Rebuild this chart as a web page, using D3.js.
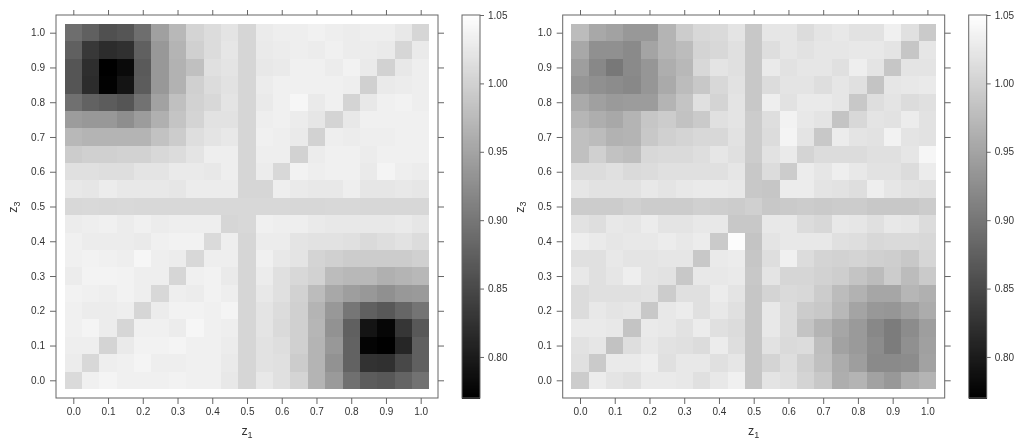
<!DOCTYPE html>
<html>
<head>
<meta charset="utf-8">
<script src="https://cdn.jsdelivr.net/npm/d3@7"></script>
<style>
  html, body { margin: 0; padding: 0; background: #fff; }
  svg { display: block; will-change: transform; }
  text { font-family: "Liberation Sans", Arial, sans-serif; fill: #333; }
  .axis path, .axis line, .frame { stroke: #666; stroke-width: 1; fill: none; }
  .axis text { font-size: 10px; fill: #333; }
</style>
</head>
<body>
<script>
// z values of rows (top to bottom) and columns (left to right)
const zRows = [1, 0.95, 0.9, 0.85, 0.8, 0.75, 0.7, 0.65, 0.6, 0.55, 0.5, 0.45, 0.4, 0.35, 0.3, 0.25, 0.2, 0.15, 0.1, 0.05, 0];
const zCols = zRows.slice().reverse();
const zTicks = [0, 0.1, 0.2, 0.3, 0.4, 0.5, 0.6, 0.7, 0.8, 0.9, 1];
const barTicks = [0.8, 0.85, 0.9, 0.95, 1, 1.05];
const barDomain = [0.77, 1.05];

const leftValues = [
  [.891,.875,.858,.863,.891,.946,.972,1.003,1.012,1.020,1.005,1.028,1.031,1.031,1.035,1.031,1.029,1.031,1.031,1.025,1.005],
  [.875,.831,.818,.823,.875,.937,.968,.998,1.012,1.023,1.005,1.027,1.029,1.031,1.029,1.034,1.029,1.029,1.027,1.005,1.027],
  [.863,.821,.770,.781,.869,.937,.965,.981,1.016,1.020,1.005,1.025,1.027,1.034,1.034,1.029,1.036,1.027,1.001,1.025,1.031],
  [.863,.818,.772,.792,.871,.937,.965,.998,1.012,1.018,1.005,1.029,1.034,1.034,1.034,1.034,1.031,.998,1.027,1.029,1.031],
  [.893,.878,.871,.863,.895,.948,.981,1.001,1.007,1.020,1.005,1.027,1.034,1.040,1.027,1.033,1.003,1.025,1.034,1.036,1.031],
  [.941,.937,.937,.926,.941,.963,.985,1.003,1.018,1.018,1.005,1.031,1.034,1.029,1.023,1.003,1.025,1.034,1.034,1.034,1.034],
  [.972,.968,.968,.968,.968,.983,.994,1.014,1.020,1.025,1.005,1.034,1.031,1.027,1.001,1.031,1.029,1.031,1.031,1.034,1.034],
  [.994,.998,.998,1.001,1.001,1.007,1.012,1.020,1.031,1.031,1.005,1.031,1.031,1.001,1.029,1.034,1.034,1.029,1.034,1.034,1.034],
  [1.016,1.016,1.014,1.014,1.020,1.020,1.027,1.027,1.025,1.031,1.005,1.029,1.007,1.036,1.031,1.034,1.034,1.027,1.038,1.031,1.029],
  [1.025,1.023,1.029,1.025,1.025,1.025,1.023,1.029,1.029,1.029,1.005,1.005,1.031,1.027,1.025,1.025,1.031,1.023,1.023,1.025,1.023],
  [1.007,1.008,1.007,1.008,1.007,1.007,1.007,1.007,1.007,1.007,1.007,1.007,1.007,1.006,1.006,1.007,1.007,1.006,1.006,1.006,1.006],
  [1.029,1.031,1.034,1.029,1.034,1.029,1.031,1.031,1.031,1.005,1.007,1.034,1.031,1.031,1.027,1.025,1.025,1.025,1.025,1.027,1.023],
  [1.034,1.029,1.029,1.029,1.027,1.034,1.036,1.036,1.009,1.031,1.005,1.029,1.029,1.020,1.018,1.018,1.016,1.009,1.014,1.018,1.012],
  [1.034,1.036,1.034,1.031,1.040,1.031,1.029,1.007,1.031,1.031,1.005,1.034,1.025,1.020,1.003,.998,.994,.994,.994,.994,.998],
  [1.029,1.037,1.037,1.036,1.031,1.031,1.005,1.034,1.036,1.027,1.005,1.029,1.016,1.007,1.001,.976,.972,.972,.963,.968,.972],
  [1.036,1.034,1.031,1.036,1.031,1.007,1.031,1.029,1.036,1.031,1.005,1.025,1.016,1.001,.976,.954,.944,.937,.928,.937,.939],
  [1.034,1.029,1.029,1.031,1.005,1.029,1.036,1.036,1.034,1.038,1.005,1.020,1.012,.998,.968,.937,.900,.875,.867,.882,.897],
  [1.034,1.038,1.029,1.005,1.034,1.034,1.029,1.040,1.034,1.031,1.005,1.020,1.009,.998,.970,.930,.875,.792,.777,.829,.867],
  [1.031,1.031,1.003,1.027,1.036,1.036,1.038,1.034,1.034,1.029,1.005,1.018,1.014,.998,.968,.937,.878,.774,.770,.812,.875],
  [1.029,1.007,1.031,1.034,1.038,1.031,1.031,1.034,1.034,1.027,1.005,1.018,1.016,.994,.968,.930,.878,.825,.823,.849,.875],
  [1.009,1.034,1.038,1.034,1.034,1.034,1.036,1.034,1.034,1.025,1.005,1.025,1.016,1.003,.968,.939,.893,.871,.867,.880,.895]
];

const rightValues = [
  [.976,.954,.948,.937,.937,.968,.994,1.007,1.009,1.020,.990,1.023,1.023,1.012,1.020,1.025,1.018,1.018,1.034,1.016,.992],
  [.954,.928,.928,.922,.950,.968,.976,1.003,1.007,1.016,.990,1.014,1.023,1.018,1.023,1.023,1.025,1.025,1.020,.987,1.023],
  [.944,.919,.902,.922,.935,.961,.972,1.007,1.020,1.016,.990,1.027,1.018,1.023,1.023,1.016,1.031,1.020,.987,1.020,1.020],
  [.935,.928,.924,.919,.935,.957,.976,.990,1.007,1.018,.990,1.012,1.020,1.020,1.014,1.023,1.016,.985,1.023,1.025,1.027],
  [.957,.946,.939,.941,.941,.968,.985,1.016,1.003,1.020,.990,1.031,1.018,1.027,1.027,1.023,.990,1.014,1.020,1.012,1.016],
  [.970,.961,.954,.968,.987,.994,.983,.992,1.016,1.020,.994,1.014,1.036,1.025,1.020,.985,1.007,1.020,1.018,1.029,1.018],
  [.981,.976,.965,.968,.990,.998,1.003,1.007,1.007,1.018,.994,1.012,1.038,1.020,.990,1.029,1.020,1.018,1.036,1.020,1.018],
  [.981,.998,.983,.979,1.007,1.009,1.009,1.014,1.023,1.016,.994,1.018,1.027,1.003,1.012,1.012,1.012,1.016,1.016,1.023,1.040],
  [1.012,1.012,1.016,1.009,1.012,1.016,1.016,1.016,1.016,1.023,.990,1.012,.994,1.029,1.023,1.031,1.025,1.018,1.018,1.012,1.029],
  [1.023,1.018,1.018,1.018,1.025,1.020,1.025,1.027,1.027,1.025,.990,.987,1.029,1.029,1.020,1.018,1.014,1.031,1.023,1.018,1.016],
  [.994,.994,.994,.998,.994,.994,.994,.998,.996,.994,.998,.990,.992,.994,.992,.994,.994,.990,.990,.990,.994],
  [1.018,1.014,1.025,1.023,1.029,1.020,1.020,1.025,1.025,.990,.990,1.025,1.025,1.012,1.007,1.025,1.023,1.016,1.025,1.023,1.012],
  [1.031,1.027,1.023,1.025,1.025,1.029,1.025,1.029,.992,1.047,.985,1.020,1.025,1.025,1.025,1.016,1.014,1.007,1.009,1.009,1.007],
  [1.016,1.016,1.025,1.020,1.020,1.023,1.023,.990,1.027,1.029,.987,1.014,1.034,1.012,1.003,1.001,1.003,.998,.996,.990,1.005],
  [1.025,1.016,1.023,1.031,1.020,1.018,.990,1.025,1.025,1.027,.990,1.020,1.005,1.005,1.001,.996,.985,.976,.994,.976,.992],
  [1.012,1.016,1.016,1.016,1.018,.994,1.016,1.016,1.029,1.020,.987,1.003,1.009,1.007,.994,.976,.965,.952,.952,.970,.963],
  [1.012,1.025,1.020,1.023,.990,1.025,1.029,1.016,1.025,1.016,.987,1.025,1.012,.994,.990,.972,.950,.937,.935,.946,.959],
  [1.027,1.027,1.025,.985,1.027,1.025,1.018,1.029,1.016,1.012,.987,1.025,1.012,.985,.968,.952,.939,.919,.906,.924,.944],
  [1.018,1.023,.983,1.014,1.025,1.018,1.016,1.012,1.029,1.014,.987,1.018,1.009,1.012,.979,.948,.939,.924,.906,.928,.946],
  [1.016,.992,1.027,1.027,1.031,1.016,1.025,1.025,1.016,1.023,.987,1.003,1.014,.998,.981,.959,.944,.922,.922,.924,.948],
  [.994,1.029,1.020,1.016,1.027,1.027,1.025,1.016,1.025,1.034,.987,1.020,1.016,1.003,.990,.961,.968,.948,.937,.959,.968]
];

const dims = { left: 56, right: 438, top: 15, bottom: 398, pad: 17.3, barLeft: 462, barRight: 480 };
const panelStep = 506.7;

const svg = d3.select('body').append('svg').attr('width', 1024).attr('height', 447);

// gray level follows the value linearly
const grayScale = d3.scaleLinear().domain(barDomain).range([0, 255]);
const fillOf = (v) => { const g = Math.round(grayScale(v)); return `rgb(${g},${g},${g})`; };

// zRows has the cell centres, so a cell is +-half a step around them
const halfCell = 0.025;

function drawPanel(offset, values) {
    const root = svg.append('g').attr('transform', `translate(${offset},0)`);

    const xscale = d3.scaleLinear().domain([0, 1]).range([dims.left + dims.pad, dims.right - dims.pad]);
    const yscale = d3.scaleLinear().domain([0, 1]).range([dims.bottom - dims.pad - 0.4, dims.top + dims.pad + 0.4]);

    //flatten into cells
    const cells = [];
    zRows.forEach((z3, r) => zCols.forEach((z1, c) => cells.push({ z1, z3, value: values[r][c] })));

    root.append('g').selectAll('rect').data(cells).enter().append('rect')
        .attr('x', (d) => xscale(d.z1 - halfCell))
        .attr('y', (d) => yscale(d.z3 + halfCell))
        .attr('width', (d) => xscale(d.z1 + halfCell) - xscale(d.z1 - halfCell))
        .attr('height', (d) => yscale(d.z3 - halfCell) - yscale(d.z3 + halfCell))
        .attr('shape-rendering', 'crispEdges')
        .attr('fill', (d) => fillOf(d.value));

    root.append('rect').attr('class', 'frame')
        .attr('x', dims.left).attr('y', dims.top)
        .attr('width', dims.right - dims.left).attr('height', dims.bottom - dims.top);

    const fmt = d3.format('.1f');
    //axes on all four sides, only bottom and left have labels
    const bottomAxis = d3.axisBottom(xscale).tickValues(zTicks).tickFormat(fmt).tickSize(6).tickPadding(4).tickSizeOuter(0);
    const leftAxis = d3.axisLeft(yscale).tickValues(zTicks).tickFormat(fmt).tickSize(6).tickPadding(5).tickSizeOuter(0);
    const topAxis = d3.axisTop(xscale).tickValues(zTicks).tickFormat('').tickSize(5).tickSizeOuter(0);
    const rightAxis = d3.axisRight(yscale).tickValues(zTicks).tickFormat('').tickSize(6).tickSizeOuter(0);

    const addAxis = (axis, x, y) => root.append('g').attr('class', 'axis')
        .attr('transform', `translate(${x},${y})`).call(axis)
        .call((g) => g.select('.domain').remove());
    addAxis(bottomAxis, 0, dims.bottom);
    addAxis(leftAxis, dims.left, 0);
    addAxis(topAxis, 0, dims.top);
    addAxis(rightAxis, dims.right, 0);

    //axis labels with subscripts
    const addLabel = (sub, transform) => {
        const t = root.append('text').attr('transform', transform).attr('text-anchor', 'middle').attr('font-size', 12.5);
        t.append('tspan').text('z');
        t.append('tspan').attr('font-size', 9).attr('dy', 2.5).text(sub);
    };
    addLabel('1', 'translate(247,435)');
    addLabel('3', 'translate(17,207) rotate(-90)');

    //colour key
    const barScale = d3.scaleLinear().domain(barDomain).range([dims.bottom, dims.top]);
    const barSteps = d3.range(barDomain[0], barDomain[1], 0.001);
    root.append('g').selectAll('rect').data(barSteps).enter().append('rect')
        .attr('x', dims.barLeft)
        .attr('width', dims.barRight - dims.barLeft)
        .attr('y', (d) => barScale(d + 0.001))
        .attr('height', (d) => barScale(d) - barScale(d + 0.001) + 0.5)
        .attr('shape-rendering', 'crispEdges')
        .attr('fill', fillOf);
    root.append('rect').attr('class', 'frame')
        .attr('x', dims.barLeft).attr('y', dims.top)
        .attr('width', dims.barRight - dims.barLeft).attr('height', dims.bottom - dims.top);

    const barAxis = d3.axisRight(barScale).tickValues(barTicks).tickFormat(d3.format('.2f')).tickSize(4).tickPadding(4).tickSizeOuter(0);
    addAxis(barAxis, dims.barRight, 0);
}

drawPanel(0, leftValues);
drawPanel(panelStep, rightValues);
</script>
</body>
</html>
